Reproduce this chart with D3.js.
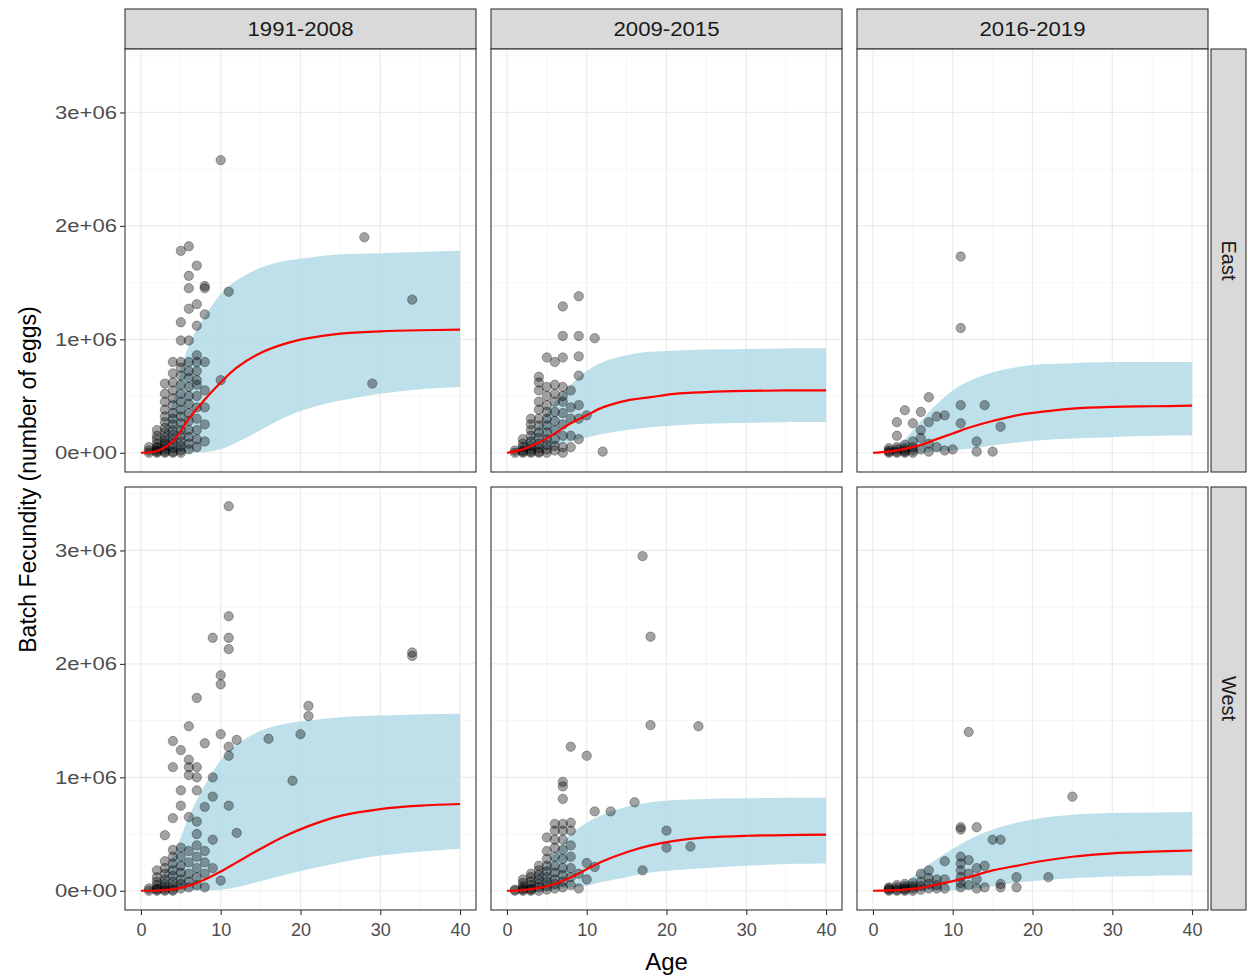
<!DOCTYPE html>
<html>
<head>
<meta charset="utf-8">
<script src="https://cdn.jsdelivr.net/npm/d3@7"></script>
<style>
  html, body { margin: 0; padding: 0; background: #fff; }
  svg { display: block; font-family: "Liberation Sans", Arial, sans-serif; }
</style>
</head>
<body>
<svg id="chart" width="1248" height="977"></svg>
<script>
// ---------- DATA ----------
const periods = ["1991-2008", "2009-2015", "2016-2019"];
const regions = ["East", "West"];
const xTicks = [0, 10, 20, 30, 40];
const xMinor = [5, 15, 25, 35];
const yTicks = [0, 1e6, 2e6, 3e6];
const yMinor = [0.5e6, 1.5e6, 2.5e6, 3.5e6];
const yTickLabels = ["0e+00", "1e+06", "2e+06", "3e+06"];

// ages at which the fitted curve / interval were read (values in millions of eggs)
const fitAges = [0, 2, 4, 6, 8, 10, 12, 15, 18, 21, 25, 30, 35, 40];

const fitEast1991   = [0, 0.015, 0.10, 0.30, 0.47, 0.62, 0.75, 0.88, 0.96, 1.01, 1.05, 1.07, 1.08, 1.085];
const upperEast1991 = [0, 0.07, 0.45, 0.95, 1.20, 1.40, 1.52, 1.63, 1.69, 1.72, 1.75, 1.76, 1.77, 1.78];
const lowerEast1991 = [0, 0, 0, 0, 0.005, 0.03, 0.09, 0.20, 0.31, 0.39, 0.46, 0.52, 0.56, 0.58];

const fitEast2009   = [0, 0.03, 0.09, 0.17, 0.26, 0.33, 0.40, 0.46, 0.49, 0.52, 0.535, 0.545, 0.55, 0.55];
const upperEast2009 = [0, 0.08, 0.25, 0.45, 0.60, 0.72, 0.80, 0.86, 0.89, 0.90, 0.91, 0.915, 0.92, 0.92];
const lowerEast2009 = [0, 0.01, 0.03, 0.06, 0.10, 0.135, 0.165, 0.20, 0.225, 0.24, 0.255, 0.265, 0.27, 0.27];

const fitEast2016   = [0, 0.01, 0.035, 0.07, 0.12, 0.17, 0.22, 0.28, 0.33, 0.36, 0.39, 0.405, 0.41, 0.415];
const upperEast2016 = [0, 0.03, 0.12, 0.28, 0.43, 0.55, 0.63, 0.71, 0.755, 0.78, 0.79, 0.80, 0.80, 0.80];
const lowerEast2016 = [0, 0, 0, 0.005, 0.012, 0.02, 0.035, 0.065, 0.09, 0.11, 0.125, 0.14, 0.15, 0.155];

const fitWest1991   = [0, 0.002, 0.012, 0.045, 0.10, 0.17, 0.25, 0.37, 0.48, 0.57, 0.66, 0.72, 0.75, 0.765];
const upperWest1991 = [0, 0.06, 0.30, 0.65, 0.93, 1.15, 1.29, 1.41, 1.47, 1.50, 1.53, 1.545, 1.555, 1.56];
const lowerWest1991 = [0, 0, 0, 0, 0.002, 0.008, 0.03, 0.085, 0.14, 0.19, 0.25, 0.31, 0.345, 0.37];

const fitWest2009   = [0, 0.005, 0.025, 0.06, 0.12, 0.19, 0.26, 0.34, 0.40, 0.44, 0.47, 0.485, 0.49, 0.495];
const upperWest2009 = [0, 0.03, 0.15, 0.33, 0.50, 0.60, 0.67, 0.74, 0.78, 0.80, 0.81, 0.815, 0.82, 0.82];
const lowerWest2009 = [0, 0, 0.003, 0.01, 0.03, 0.045, 0.08, 0.12, 0.16, 0.18, 0.20, 0.22, 0.235, 0.24];

const fitWest2016   = [0, 0.003, 0.01, 0.025, 0.055, 0.085, 0.12, 0.18, 0.22, 0.26, 0.30, 0.33, 0.345, 0.355];
const upperWest2016 = [0, 0.015, 0.07, 0.18, 0.28, 0.37, 0.45, 0.54, 0.60, 0.64, 0.67, 0.685, 0.69, 0.695];
const lowerWest2016 = [0, 0, 0, 0, 0.002, 0.005, 0.015, 0.04, 0.07, 0.09, 0.11, 0.125, 0.133, 0.137];

// observed fish: [age, [batch fecundity values in millions]]
const ptsEast1991 = [
  [1, [0.0, 0.02, 0.05]],
  [2, [0.0, 0.01, 0.02, 0.04, 0.05, 0.08, 0.12, 0.15, 0.2]],
  [3, [0.0, 0.01, 0.03, 0.06, 0.08, 0.1, 0.14, 0.18, 0.22, 0.27, 0.32, 0.38, 0.45, 0.52, 0.61]],
  [4, [0.0, 0.01, 0.04, 0.08, 0.12, 0.16, 0.2, 0.25, 0.3, 0.35, 0.42, 0.48, 0.55, 0.62, 0.7, 0.8]],
  [5, [0.0, 0.02, 0.06, 0.1, 0.15, 0.2, 0.26, 0.32, 0.38, 0.45, 0.52, 0.6, 0.68, 0.75, 0.8, 0.99, 1.15, 1.78]],
  [6, [0.03, 0.08, 0.14, 0.2, 0.28, 0.35, 0.43, 0.5, 0.58, 0.66, 0.72, 0.8, 0.99, 1.27, 1.45, 1.56, 1.82]],
  [7, [0.05, 0.12, 0.2, 0.3, 0.4, 0.5, 0.6, 0.64, 0.72, 0.8, 0.86, 1.12, 1.31, 1.65]],
  [8, [0.1, 0.25, 0.4, 0.55, 0.8, 1.22, 1.45, 1.47]],
  [10, [0.64, 2.58]],
  [11, [1.42]],
  [28, [1.90]],
  [29, [0.61]],
  [34, [1.35]]
];
const ptsEast2009 = [
  [1, [0.0, 0.02]],
  [2, [0.0, 0.01, 0.02, 0.05, 0.08, 0.12]],
  [3, [0.0, 0.01, 0.03, 0.06, 0.1, 0.15, 0.2, 0.25, 0.3]],
  [4, [0.0, 0.01, 0.04, 0.08, 0.13, 0.18, 0.24, 0.3, 0.38, 0.45, 0.55, 0.62, 0.67]],
  [5, [0.0, 0.03, 0.07, 0.12, 0.18, 0.24, 0.3, 0.36, 0.42, 0.5, 0.58, 0.84]],
  [6, [0.02, 0.06, 0.12, 0.2, 0.28, 0.36, 0.45, 0.52, 0.6, 0.8]],
  [7, [0.0, 0.05, 0.15, 0.25, 0.35, 0.45, 0.5, 0.58, 0.84, 1.03, 1.29]],
  [8, [0.05, 0.15, 0.3, 0.4, 0.55]],
  [9, [0.12, 0.3, 0.42, 0.68, 0.85, 1.03, 1.38]],
  [10, [0.33]],
  [11, [1.01]],
  [12, [0.01]]
];
const ptsEast2016 = [
  [2, [0.0, 0.01, 0.02, 0.04]],
  [3, [0.0, 0.01, 0.03, 0.05, 0.15, 0.27]],
  [4, [0.0, 0.01, 0.02, 0.04, 0.07, 0.375]],
  [5, [0.0, 0.02, 0.05, 0.1, 0.26]],
  [6, [0.03, 0.13, 0.2, 0.36]],
  [7, [0.01, 0.08, 0.27, 0.49]],
  [8, [0.05, 0.32]],
  [9, [0.02, 0.33]],
  [10, [0.03]],
  [11, [0.26, 0.42, 1.10, 1.73]],
  [13, [0.01, 0.10]],
  [14, [0.42]],
  [15, [0.01]],
  [16, [0.23]]
];
const ptsWest1991 = [
  [1, [0.0, 0.02]],
  [2, [0.0, 0.01, 0.02, 0.05, 0.08, 0.12, 0.18]],
  [3, [0.0, 0.01, 0.03, 0.06, 0.1, 0.15, 0.2, 0.26, 0.49]],
  [4, [0.0, 0.01, 0.04, 0.08, 0.13, 0.18, 0.24, 0.3, 0.36, 0.64, 1.09, 1.32]],
  [5, [0.02, 0.06, 0.1, 0.16, 0.22, 0.3, 0.38, 0.75, 0.885, 1.24]],
  [6, [0.03, 0.08, 0.15, 0.25, 0.35, 0.65, 1.02, 1.09, 1.155, 1.45]],
  [7, [0.05, 0.12, 0.2, 0.3, 0.4, 0.5, 0.61, 0.885, 1.0, 1.09, 1.70]],
  [8, [0.03, 0.15, 0.25, 0.35, 0.74, 1.30]],
  [9, [0.2, 0.45, 0.83, 1.0, 2.23]],
  [10, [0.09, 1.38, 1.82, 1.90]],
  [11, [0.75, 1.19, 1.27, 2.13, 2.23, 2.42, 3.39]],
  [12, [0.51, 1.33]],
  [16, [1.34]],
  [19, [0.97]],
  [20, [1.38]],
  [21, [1.54, 1.63]],
  [34, [2.07, 2.10]]
];
const ptsWest2009 = [
  [1, [0.0, 0.01]],
  [2, [0.0, 0.01, 0.02, 0.04, 0.07, 0.1]],
  [3, [0.0, 0.01, 0.02, 0.05, 0.08, 0.12, 0.15]],
  [4, [0.0, 0.03, 0.06, 0.1, 0.14, 0.18, 0.22]],
  [5, [0.01, 0.04, 0.08, 0.12, 0.17, 0.22, 0.28, 0.35, 0.47]],
  [6, [0.02, 0.06, 0.1, 0.16, 0.22, 0.3, 0.38, 0.45, 0.53, 0.59]],
  [7, [0.03, 0.08, 0.14, 0.2, 0.28, 0.36, 0.45, 0.53, 0.59, 0.81, 0.92, 0.96]],
  [8, [0.05, 0.12, 0.2, 0.3, 0.4, 0.53, 0.6, 1.27]],
  [9, [0.02, 0.15]],
  [10, [0.1, 0.245, 1.19]],
  [11, [0.21, 0.70]],
  [13, [0.70]],
  [16, [0.78]],
  [17, [0.18, 2.95]],
  [18, [1.46, 2.24]],
  [20, [0.38, 0.53]],
  [23, [0.39]],
  [24, [1.45]]
];
const ptsWest2016 = [
  [2, [0.0, 0.01, 0.02, 0.03]],
  [3, [0.0, 0.01, 0.03, 0.05]],
  [4, [0.0, 0.01, 0.02, 0.04, 0.06]],
  [5, [0.0, 0.02, 0.04, 0.07]],
  [6, [0.01, 0.04, 0.08, 0.15]],
  [7, [0.02, 0.06, 0.11, 0.18]],
  [8, [0.02, 0.05, 0.1]],
  [9, [0.02, 0.1, 0.26]],
  [11, [0.03, 0.07, 0.12, 0.18, 0.24, 0.3, 0.54, 0.56]],
  [12, [0.05, 0.15, 0.27, 1.40]],
  [13, [0.02, 0.1, 0.2, 0.56]],
  [14, [0.03, 0.22]],
  [15, [0.45]],
  [16, [0.03, 0.06, 0.45]],
  [18, [0.03, 0.12]],
  [22, [0.12]],
  [25, [0.83]]
];

// ---------- BUILD PANEL TABLE ----------
const panels = [
  { region: "East", period: "1991-2008", fit: fitEast1991, upper: upperEast1991, lower: lowerEast1991, pts: ptsEast1991 },
  { region: "East", period: "2009-2015", fit: fitEast2009, upper: upperEast2009, lower: lowerEast2009, pts: ptsEast2009 },
  { region: "East", period: "2016-2019", fit: fitEast2016, upper: upperEast2016, lower: lowerEast2016, pts: ptsEast2016 },
  { region: "West", period: "1991-2008", fit: fitWest1991, upper: upperWest1991, lower: lowerWest1991, pts: ptsWest1991 },
  { region: "West", period: "2009-2015", fit: fitWest2009, upper: upperWest2009, lower: lowerWest2009, pts: ptsWest2009 },
  { region: "West", period: "2016-2019", fit: fitWest2016, upper: upperWest2016, lower: lowerWest2016, pts: ptsWest2016 }
];

// ---------- LAYOUT ----------
const colX = [125, 491, 857];
const rowY = [49, 487];
const pw = 351, ph = 423;
const stripTop = 9;
const rightStripX = 1211, rightStripW = 35;

const x = d3.scaleLinear().domain([-2, 42]).range([0, pw]);
const y = d3.scaleLinear().domain([-0.1695e6, 3.5595e6]).range([ph, 0]);

const svg = d3.select("#chart");
const gridMajor = "#ebebeb", gridMinor = "#f4f4f4";
const borderCol = "#333333";

// top strips
periods.forEach((p, j) => {
  const g = svg.append("g").attr("transform", `translate(${colX[j]},${stripTop})`);
  g.append("rect").attr("width", pw).attr("height", rowY[0] - stripTop)
    .attr("fill", "#d9d9d9").attr("stroke", borderCol).attr("stroke-width", 1.1);
  g.append("text").attr("x", pw / 2).attr("y", (rowY[0] - stripTop) / 2 + 7)
    .attr("text-anchor", "middle").attr("font-size", 20).attr("fill", "#1a1a1a")
    .attr("textLength", 106).attr("lengthAdjust", "spacingAndGlyphs").text(p);
});

// right strips
regions.forEach((r, i) => {
  const g = svg.append("g").attr("transform", `translate(${rightStripX},${rowY[i]})`);
  g.append("rect").attr("width", rightStripW).attr("height", ph)
    .attr("fill", "#d9d9d9").attr("stroke", borderCol).attr("stroke-width", 1.1);
  g.append("text").attr("transform", `translate(${rightStripW / 2 - 7},${ph / 2}) rotate(90)`)
    .attr("text-anchor", "middle").attr("font-size", 20).attr("fill", "#1a1a1a").text(r);
});

const smooth = d3.curveCatmullRom.alpha(0.5);
const area = d3.area().x(d => x(d[0])).y0(d => y(d[1])).y1(d => y(d[2])).curve(smooth);
const line = d3.line().x(d => x(d[0])).y(d => y(d[1])).curve(smooth);

panels.forEach(P => {
  const j = periods.indexOf(P.period), i = regions.indexOf(P.region);
  const g = svg.append("g").attr("transform", `translate(${colX[j]},${rowY[i]})`);
  g.append("rect").attr("width", pw).attr("height", ph).attr("fill", "#fff");

  // grid
  g.selectAll(".xmin").data(xMinor).join("line")
    .attr("x1", d => x(d)).attr("x2", d => x(d)).attr("y1", 0).attr("y2", ph)
    .attr("stroke", gridMinor).attr("stroke-width", 0.8);
  g.selectAll(".ymin").data(yMinor).join("line")
    .attr("y1", d => y(d)).attr("y2", d => y(d)).attr("x1", 0).attr("x2", pw)
    .attr("stroke", gridMinor).attr("stroke-width", 0.8);
  g.selectAll(".xmaj").data(xTicks).join("line")
    .attr("x1", d => x(d)).attr("x2", d => x(d)).attr("y1", 0).attr("y2", ph)
    .attr("stroke", gridMajor).attr("stroke-width", 1.2);
  g.selectAll(".ymaj").data(yTicks).join("line")
    .attr("y1", d => y(d)).attr("y2", d => y(d)).attr("x1", 0).attr("x2", pw)
    .attr("stroke", gridMajor).attr("stroke-width", 1.2);

  // ribbon
  const band = fitAges.map((a, k) => [a, P.lower[k] * 1e6, P.upper[k] * 1e6]);
  g.append("path").datum(band).attr("d", area).attr("fill", "#add8e6").attr("fill-opacity", 0.8);

  // points
  const pts = [];
  P.pts.forEach(([age, vals]) => vals.forEach(v => pts.push([age, v * 1e6])));
  g.selectAll("circle").data(pts).join("circle")
    .attr("cx", d => x(d[0])).attr("cy", d => y(d[1])).attr("r", 4.7)
    .attr("fill", "#000").attr("fill-opacity", 0.36)
    .attr("stroke", "#000").attr("stroke-opacity", 0.3).attr("stroke-width", 1);

  // fitted line
  const fl = fitAges.map((a, k) => [a, P.fit[k] * 1e6]);
  g.append("path").datum(fl).attr("d", line).attr("fill", "none")
    .attr("stroke", "#ff0000").attr("stroke-width", 2.2);

  // border
  g.append("rect").attr("width", pw).attr("height", ph).attr("fill", "none")
    .attr("stroke", borderCol).attr("stroke-width", 1.1);

  // y axis on left column
  if (j === 0) {
    const ax = g.append("g").call(d3.axisLeft(y).tickValues(yTicks)
      .tickFormat((d, k) => yTickLabels[k]).tickSize(5).tickPadding(3));
    ax.select(".domain").remove();
    ax.selectAll("line").attr("stroke", borderCol).attr("stroke-width", 1.1);
    ax.selectAll("text").attr("font-size", 18).attr("fill", "#4d4d4d")
      .attr("font-family", "Liberation Sans, Arial, sans-serif")
      .attr("textLength", 62).attr("lengthAdjust", "spacingAndGlyphs");
  }
  // x axis on bottom row
  if (i === 1) {
    const ax = g.append("g").attr("transform", `translate(0,${ph})`)
      .call(d3.axisBottom(x).tickValues(xTicks).tickSize(5).tickPadding(8));
    ax.select(".domain").remove();
    ax.selectAll("line").attr("stroke", borderCol).attr("stroke-width", 1.1);
    ax.selectAll("text").attr("font-size", 18).attr("fill", "#4d4d4d")
      .attr("font-family", "Liberation Sans, Arial, sans-serif");
  }
});

// axis titles
svg.append("text").attr("x", (colX[0] + colX[2] + pw) / 2).attr("y", 970)
  .attr("text-anchor", "middle").attr("font-size", 24).attr("fill", "#000").text("Age");
svg.append("text")
  .attr("transform", `translate(36,${(rowY[0] + rowY[1] + ph) / 2}) rotate(-90)`)
  .attr("text-anchor", "middle").attr("font-size", 23).attr("fill", "#000")
  .text("Batch Fecundity (number of eggs)");
</script>
</body>
</html>
